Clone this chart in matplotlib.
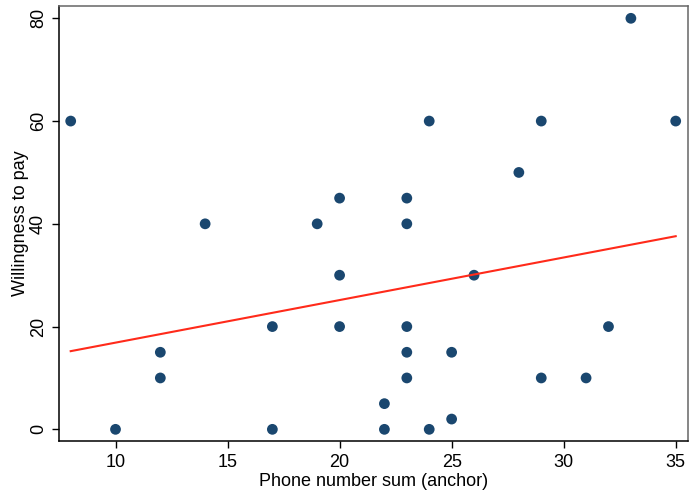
import numpy as np
import matplotlib
matplotlib.use("Agg")
import matplotlib.pyplot as plt

plt.rcParams.update({
    "font.family": ["Liberation Sans", "DejaVu Sans"],
    "font.size": 13,
})

# phone number sum (anchor) vs willingness to pay
anchor = [8, 10, 12, 12, 14, 17, 17, 19, 20, 20, 20, 22, 22, 23, 23, 23, 23, 23,
          24, 24, 25, 25, 26, 28, 29, 29, 31, 32, 33, 35]
wtp = [60, 0, 15, 10, 40, 20, 0, 40, 45, 30, 20, 5, 0, 45, 40, 20, 15, 10,
       60, 0, 15, 2, 30, 50, 60, 10, 10, 20, 80, 60]

x_ticks = [10, 15, 20, 25, 30, 35]
y_ticks = [0, 20, 40, 60, 80]

x = np.array(anchor, dtype=float)
y = np.array(wtp, dtype=float)
slope, intercept = np.polyfit(x, y, 1)
xs = np.array([x.min(), x.max()])

fig = plt.figure(figsize=(6.91, 4.90), dpi=100)
ax = fig.add_axes([0.0861, 0.1, 0.9096, 0.8878])

ax.scatter(x, y, s=60, color="#1a476f", edgecolors="none", zorder=2)
ax.plot(xs, intercept + slope * xs, color="#ff2a1a", lw=1.5, zorder=3)

ax.set_xlim(7.5, 35.55)
ax.set_ylim(-2.27, 82.4)
ax.set_xticks(x_ticks)
ax.set_yticks(y_ticks)
for lab in ax.get_yticklabels():
    lab.set_rotation(90)
    lab.set_va("center")

ax.tick_params(direction="out", length=5, width=1, pad=4)
ax.spines["top"].set_color("#666666")
ax.spines["right"].set_color("#666666")
for s in ax.spines.values():
    s.set_linewidth(1.1)

ax.set_xlabel("Phone number sum (anchor)", labelpad=2)
ax.set_ylabel("Willingness to pay", labelpad=1)

fig.savefig("out.png", dpi=100)
